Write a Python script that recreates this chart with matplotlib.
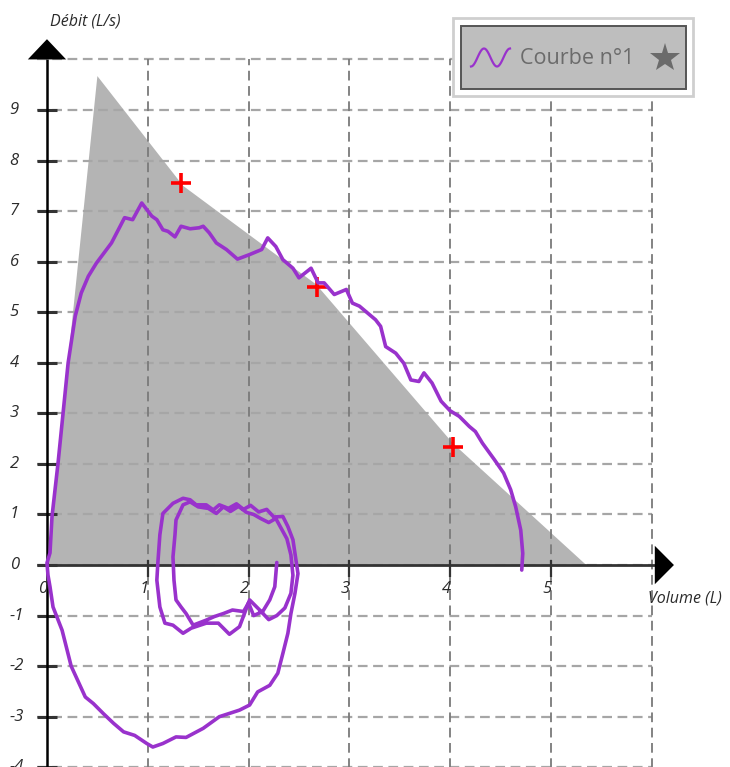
import numpy as np
import matplotlib
matplotlib.use("Agg")
import matplotlib.pyplot as plt
from matplotlib.patches import Polygon, Rectangle

plt.rcParams['lines.scale_dashes'] = False

# ---------------- data ----------------
x_ticks = [0, 1, 2, 3, 4, 5]
y_ticks = [-4, -3, -2, -1, 0, 1, 2, 3, 4, 5, 6, 7, 8, 9]
x_label = "Volume (L)"
y_label = "Débit (L/s)"
legend_label = "Courbe n°1"

# predicted (theoretical) area
pred_vol = [0.0, 0.50, 1.35, 2.67, 4.03, 5.35]
pred_flow = [0.0, 9.67, 7.50, 5.55, 2.40, 0.0]

# reference points (red crosses)
ref_vol = [1.33, 2.68, 4.03]
ref_flow = [7.56, 5.50, 2.34]

# measured curve
curve_vol = [2.28, 2.26, 2.21, 2.14, 2.05, 2.00, 1.95, 1.84, 1.75, 1.66, 1.58, 1.45, 1.38, 1.33, 1.28,
             1.26, 1.25, 1.27, 1.28, 1.35, 1.42, 1.50, 1.60, 1.68, 1.75, 1.82, 1.90, 1.98, 2.05, 2.12,
             2.20, 2.27, 2.32, 2.38, 2.42, 2.44, 2.42, 2.36, 2.28, 2.20, 2.11, 2.01, 1.91, 1.81, 1.70,
             1.58, 1.43, 1.35, 1.25, 1.17, 1.12, 1.09, 1.10, 1.12, 1.15, 1.25, 1.35, 1.42, 1.48, 1.58,
             1.65, 1.71, 1.80, 1.88, 1.95, 2.02, 2.10, 2.18, 2.25, 2.34, 2.39, 2.44, 2.47, 2.49, 2.46,
             2.42, 2.39, 2.34, 2.29, 2.21, 2.09, 2.01, 1.91, 1.71, 1.55, 1.38, 1.28, 1.15, 1.05, 0.99,
             0.87, 0.76, 0.66, 0.56, 0.46, 0.38, 0.24, 0.15, 0.06, 0.03, 0.01, 0.00, 0.03, 0.05, 0.11,
             0.16, 0.21, 0.28, 0.34, 0.41, 0.49, 0.64, 0.77, 0.85, 0.94, 1.04, 1.09, 1.15, 1.20, 1.27,
             1.33, 1.42, 1.51, 1.55, 1.61, 1.68, 1.78, 1.89, 2.01, 2.13, 2.19, 2.27, 2.34, 2.44, 2.50,
             2.62, 2.69, 2.75, 2.85, 2.97, 3.03, 3.10, 3.20, 3.26, 3.31, 3.36, 3.46, 3.54, 3.61, 3.69,
             3.74, 3.82, 3.91, 4.00, 4.09, 4.19, 4.25, 4.32, 4.44, 4.53, 4.60, 4.65, 4.70, 4.72, 4.71]
curve_flow = [0.05, -0.43, -0.69, -0.92, -1.00, -0.75, -0.92, -0.89, -0.96, -1.02, -1.09, -1.19, -0.96, -0.83, -0.69,
              -0.30, 0.16, 0.60, 0.89, 1.19, 1.25, 1.15, 1.12, 1.02, 1.15, 1.06, 1.16, 1.04, 1.00, 0.92,
              0.84, 0.92, 0.74, 0.52, 0.20, -0.20, -0.56, -0.85, -1.00, -1.08, -0.89, -0.69, -1.22, -1.37, -1.15,
              -1.15, -1.25, -1.35, -1.19, -1.15, -0.83, -0.30, 0.04, 0.60, 1.02, 1.22, 1.32, 1.29, 1.19, 1.19,
              1.09, 1.19, 1.12, 1.21, 1.10, 1.18, 1.05, 1.10, 0.95, 0.96, 0.76, 0.50, 0.10, -0.17, -0.56,
              -0.96, -1.35, -1.75, -2.14, -2.38, -2.51, -2.77, -2.87, -3.00, -3.23, -3.41, -3.40, -3.53, -3.60, -3.53,
              -3.37, -3.30, -3.13, -2.94, -2.74, -2.61, -2.00, -1.29, -0.83, -0.43, -0.20, 0.04, 0.24, 0.96, 2.02,
              3.00, 4.00, 4.92, 5.38, 5.71, 5.97, 6.37, 6.87, 6.83, 7.16, 6.90, 6.83, 6.63, 6.60, 6.49,
              6.70, 6.65, 6.67, 6.70, 6.57, 6.37, 6.24, 6.05, 6.14, 6.24, 6.47, 6.30, 6.04, 5.87, 5.68,
              5.87, 5.58, 5.58, 5.35, 5.45, 5.18, 5.12, 4.95, 4.85, 4.72, 4.32, 4.19, 3.99, 3.66, 3.63,
              3.80, 3.60, 3.24, 3.05, 2.94, 2.74, 2.64, 2.41, 2.08, 1.82, 1.49, 1.15, 0.69, 0.23, -0.10]

# ---------------- figure ----------------
W, H = 730, 767
fig = plt.figure(figsize=(W / 100, H / 100), dpi=100)
ax = fig.add_axes([0, 0, 1, 1])
ax.set_xlim(-0.466, 6.776)
ax.set_ylim(-3.995, 11.175)
ax.axis('off')

purple = '#9932CC'
x_max = 6
y_top = 10

# predicted area
ax.add_patch(Polygon(list(zip(pred_vol, pred_flow)), closed=True,
                     facecolor='#B4B4B4', edgecolor='none', zorder=1))

# grid
for yv in y_ticks + [y_top]:
    ln, = ax.plot([-0.1, x_max], [yv, yv], color='#A6A6A6', lw=1.6, zorder=2)
    ln.set_dashes([7, 4])
for xv in range(1, x_max + 1):
    ln, = ax.plot([xv, xv], [-4.2, y_top], color='#7A7A7A', lw=1.3, zorder=2)
    ln.set_dashes([7, 4])

# y tick marks
for yv in y_ticks:
    ax.plot([-0.1, 0.1], [yv, yv], color='#333333', lw=2.2, zorder=3, solid_capstyle='butt')
# x tick marks
for xv in range(1, x_max):
    ax.plot([xv, xv], [0.1, -0.24], color='#333333', lw=1.6, zorder=3, solid_capstyle='butt')

# axes lines
ax.plot([0, 0], [-4.2, y_top], color='black', lw=1.8, zorder=4, solid_capstyle='butt')
ax.plot([-0.1, 6.05], [0, 0], color='#333333', lw=2.0, zorder=4, solid_capstyle='butt')
ax.add_patch(Polygon([[6.03, 0.38], [6.03, -0.38], [6.22, 0]], closed=True,
                     facecolor='black', edgecolor='none', zorder=5))
ax.add_patch(Polygon([[-0.19, y_top], [0.19, y_top], [0, 10.40]], closed=True,
                     facecolor='black', edgecolor='none', zorder=5))

# tick labels
lab_font = dict(family='Open Sans', style='italic', fontsize=12, color='#2b2b2b')
for yv in y_ticks:
    ax.text(-0.37, yv, f"{yv}", ha='left', va='center', zorder=6, **lab_font)
for xv in x_ticks:
    ax.text(xv + 0.005, -0.47, f"{xv}", ha='right', va='center', zorder=6, **lab_font)

ax_font = dict(family='Open Sans', style='italic', fontsize=11.5, color='#2b2b2b')
ax.text(0.03, 10.74, y_label, ha='left', va='center', **ax_font)
ax.text(6.33, -0.66, x_label, ha='center', va='center', **ax_font)

# reference crosses
ax.plot(ref_vol, ref_flow, linestyle='none', marker='+', color='#FF0000',
        markersize=14, markeredgewidth=2.6, zorder=6)

# measured curve
ax.plot(curve_vol, curve_flow, color=purple, lw=2.6, zorder=7,
        solid_joinstyle='round', solid_capstyle='round')

# ---------------- legend (pixel overlay) ----------------
ov = fig.add_axes([0, 0, 1, 1], facecolor='none')
ov.set_xlim(0, W)
ov.set_ylim(H, 0)
ov.axis('off')
ov.add_patch(Rectangle((453, 18), 240, 78, facecolor='white', edgecolor='#CFCFCF', lw=2.0, zorder=8))
ov.add_patch(Rectangle((461, 26), 225, 63, facecolor='#BEBEBE', edgecolor='#555555', lw=1.4, zorder=9))
t = np.linspace(0, 1, 60)
ov.plot(471 + 39 * t, 57.5 + 9 * np.cos(3 * np.pi * t), color=purple, lw=1.6, zorder=10)
ov.text(520, 58, legend_label, ha='left', va='center', family='Open Sans', fontsize=15.5,
        color='#6B6B6B', zorder=10)
ov.plot([665], [58], marker='*', markersize=22, color='#6B6B6B', markeredgewidth=0, zorder=10)

fig.savefig('out.png', dpi=100)
